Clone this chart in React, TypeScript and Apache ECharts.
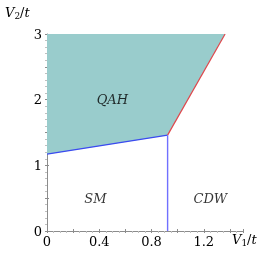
import React, { useEffect, useRef } from "react";
import * as echarts from "echarts";

// Phase boundaries (V1/t, V2/t)
const qahLowerX = [0, 0.923, 1.363];
const qahLowerY = [1.17, 1.46, 3];
const smQahX = [0, 0.923];
const smQahY = [1.17, 1.46];
const qahCdwX = [0.923, 1.363];
const qahCdwY = [1.46, 3];
const smCdwX = [0.923, 0.923];
const smCdwY = [0, 1.46];
const phaseNames = ["QAH", "SM", "CDW"];
const phaseX = [0.5, 0.37, 1.25];
const phaseY = [2.0, 0.49, 0.49];
const xTickLabels = [0, 0.4, 0.8, 1.2];
const yTickLabels = [0, 1, 2, 3];

const FONT = "DejaVu Serif";

export default function App() {
  const ref = useRef<HTMLDivElement>(null);
  useEffect(() => {
    if (!ref.current) return;
    const chart = echarts.init(ref.current, undefined, { renderer: "svg" });
    const zip = (xs: number[], ys: number[]) => xs.map((x, i) => [x, ys[i]]);
    const axisCommon = {
      axisLine: { show: true, lineStyle: { color: "#8c8c8c", width: 1 } },
      splitLine: { show: false },
      axisLabel: { color: "#000", fontFamily: FONT, fontSize: 13 },
    };
    const rich = {
      i: { fontFamily: FONT, fontStyle: "italic", fontSize: 13, color: "#000" },
      n: { fontFamily: FONT, fontSize: 13, color: "#000" },
      s: { fontFamily: FONT, fontSize: 9, color: "#000", padding: [7, 0, 0, 0] },
    };
    chart.setOption({
      animation: false,
      grid: { left: 47, right: 27, top: 34, bottom: 28 },
      xAxis: [
        {
          type: "value",
          min: 0,
          max: 1.5,
          interval: 0.2,
          ...axisCommon,
          axisTick: { show: true, length: 2, lineStyle: { color: "#8c8c8c" } },
          minorTick: { show: true, splitNumber: 4, length: 2, lineStyle: { color: "#c0c0c0" } },
          axisLabel: {
            ...axisCommon.axisLabel,
            margin: 4,
            showMaxLabel: false,
            formatter: (v: number) =>
              xTickLabels.some((t) => Math.abs(t - v) < 1e-6) ? String(v) : "",
          },
        },
        {
          type: "value",
          min: 0,
          max: 1.5,
          interval: 0.2,
          position: "bottom",
          axisLine: { show: false },
          axisTick: { show: true, inside: true, length: 2, lineStyle: { color: "#8c8c8c" } },
          axisLabel: { show: false },
          splitLine: { show: false },
        },
      ],
      yAxis: [
        {
          type: "value",
          min: 0,
          max: 3,
          interval: 0.5,
          ...axisCommon,
          axisTick: { show: true, length: 2, lineStyle: { color: "#8c8c8c" } },
          minorTick: { show: true, splitNumber: 5, length: 2, lineStyle: { color: "#c0c0c0" } },
          axisLabel: {
            ...axisCommon.axisLabel,
            margin: 5,
            formatter: (v: number) =>
              yTickLabels.some((t) => Math.abs(t - v) < 1e-6) ? String(v) : "",
          },
        },
        {
          type: "value",
          min: 0,
          max: 3,
          interval: 0.5,
          position: "left",
          axisLine: { show: false },
          axisTick: { show: true, inside: true, length: 2, lineStyle: { color: "#8c8c8c" } },
          axisLabel: { show: false },
          splitLine: { show: false },
        },
      ],
      graphic: [
        {
          type: "text",
          left: 5,
          top: 6,
          style: { text: "{i|V}{s|2}{n|/}{i|t}", rich },
        },
        {
          type: "text",
          left: 232,
          top: 233,
          style: { text: "{i|V}{s|1}{n|/}{i|t}", rich },
        },
      ],
      series: [
        {
          type: "line",
          data: zip(qahLowerX, qahLowerY),
          symbol: "none",
          lineStyle: { width: 0 },
          areaStyle: { origin: "end", color: "#99cccc", opacity: 1 },
          z: 1,
        },
        {
          type: "line",
          data: zip(smQahX, smQahY),
          symbol: "none",
          lineStyle: { color: "#3a4af0", width: 1.2 },
          z: 3,
        },
        {
          type: "line",
          data: zip(qahCdwX, qahCdwY),
          symbol: "none",
          lineStyle: { color: "#e0474c", width: 1.2 },
          z: 3,
        },
        {
          type: "line",
          data: zip(smCdwX, smCdwY),
          symbol: "none",
          lineStyle: { color: "#7070ff", width: 1.4 },
          z: 3,
        },
        {
          type: "scatter",
          symbolSize: 0,
          data: phaseNames.map((n, i) => ({ name: n, value: [phaseX[i], phaseY[i]] })),
          label: {
            show: true,
            position: "inside",
            formatter: (p: any) => p.name,
            fontFamily: FONT,
            fontStyle: "italic",
            fontSize: 13,
            color: "#000",
          },
          z: 4,
        },
      ],
    });
    return () => chart.dispose();
  }, []);
  return (
    <div
      ref={ref}
      style={{ position: "fixed", left: 0, top: 0, width: 270, height: 259 }}
    />
  );
}
